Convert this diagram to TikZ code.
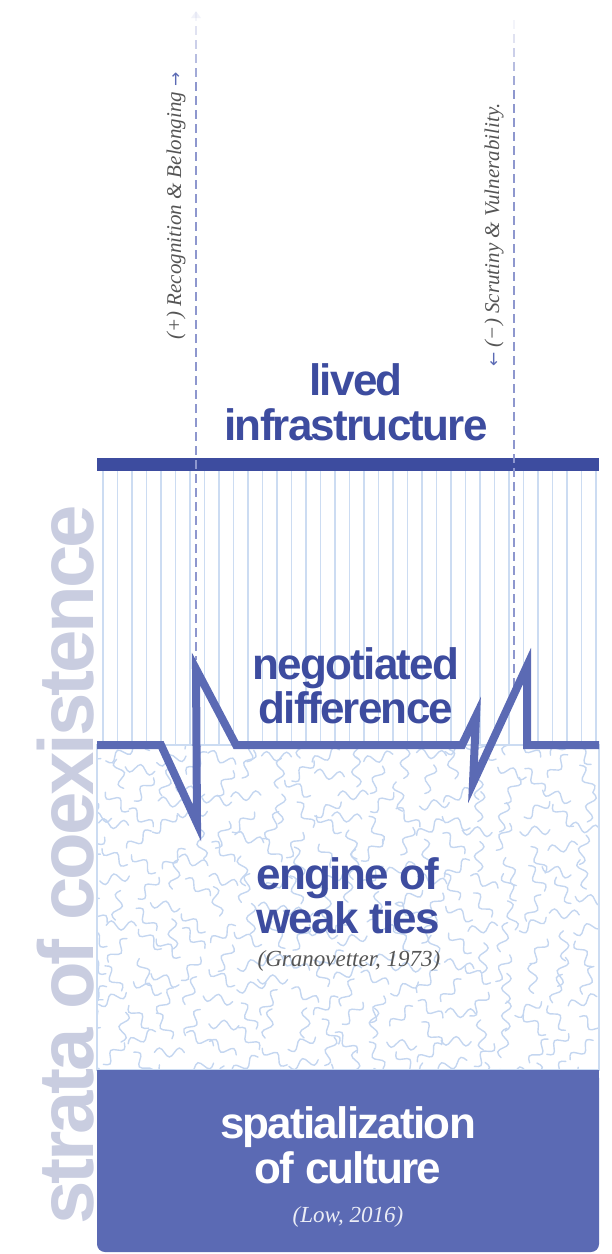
\documentclass[tikz,border=0pt]{standalone}
\usepackage{fontspec}
\setmainfont{Liberation Serif}
\newfontfamily\headfont{Liberation Sans}[LetterSpace=-4]
\newfontfamily\arrowfont{DejaVu Sans}
\usetikzlibrary{arrows.meta}

\definecolor{navy}{HTML}{3D4C9F}
\definecolor{stratablue}{HTML}{5B6AB4}
\definecolor{hatch}{HTML}{CCDCF2}
\definecolor{squig}{HTML}{C4D6F0}
\definecolor{ghost}{HTML}{C9CDE0}
\definecolor{dashblue}{HTML}{8E97CE}
\definecolor{notegray}{HTML}{555555}

\begin{document}
\begin{tikzpicture}[x=1pt,y=-1pt]

        % Styles:
        \tikzstyle{stratumtitle} = [font=\headfont\bfseries\fontsize{44}{46}\selectfont,
        text=navy, anchor=base, inner sep=0pt]
        \tikzstyle{citation} = [font=\itshape\fontsize{23}{26}\selectfont,
        text=notegray, anchor=base, inner sep=0pt]
        \tikzstyle{sidenote} = [font=\itshape\fontsize{21}{24}\selectfont,
        text=notegray, anchor=base, rotate=90, inner sep=0pt]
        \tikzstyle{guide} = [draw=dashblue, line width=1.3pt, dash pattern=on 9pt off 5pt]
        \tikzstyle{hatchline} = [draw=hatch, line width=1.2pt]
        \tikzstyle{squiggle} = [draw=squig, line width=1.4pt, line cap=round]
        \tikzstyle{fault} = [draw=stratablue, line width=8pt, line join=miter, miter limit=20]

        % Faded top of a guide: single dashes, lighter upwards
        \newcommand{\guidetop}[2]{%
            \foreach \k in {0,...,4}
                \path [draw=dashblue, line width=1.3pt, draw opacity=0.1+0.18*\k]
                (#1,#2+14*\k) -- (#1,#2+14*\k+9);}
        \newcommand{\notearrow}[1]{{\arrowfont\fontsize{17}{20}\selectfont\color{stratablue}#1}}

        \useasboundingbox (0,0) rectangle (611,1254);

        % Big side title:
        \node (strata) [font=\headfont\bfseries\fontsize{78}{80}\selectfont, text=ghost,
        rotate=90, anchor=base, inner sep=0pt] at (93,865) {strata of coexistence};

        % Hatched stratum:
        \foreach \x in {0,...,34}
            \path [hatchline] (103+14.5*\x,471) -- (103+14.5*\x,745);

        % Squiggle stratum:
        \pgfmathsetseed{42}
        \begin{scope}
            \clip (97,745) rectangle (599,1070);
            \foreach \i in {0,...,19}
                \foreach \j in {0,...,13} {
                    \pgfmathsetmacro{\sx}{92+26*\i+rand*6}
                    \pgfmathsetmacro{\sy}{742+25*\j+rand*6+mod(\i,2)*12}
                    \pgfmathsetmacro{\sa}{rnd*360}
                    \path [squiggle, shift={(\sx,\sy)}, rotate=\sa]
                    (-15,0) sin (-10,-4.5) cos (-5,0) sin (0,4.5) cos (5,0) sin (10,-4.5) cos (15,0);
                }
        \end{scope}
        \path [draw=hatch, line width=1.2pt] (97,745) rectangle (599,1070);

        % Bottom stratum:
        \fill [stratablue, rounded corners=8pt] (97,1070) rectangle (599,1252);
        \fill [stratablue] (97,1070) rectangle (599,1090);

        % Top bar:
        \fill [navy] (97,458) rectangle (599,471);

        % Guides:
        \fill [dashblue, opacity=0.12] (191,18) -- (196,11) -- (201,18) -- cycle;
        \guidetop{196}{12}
        \path [guide] (196,82) -- (196,660);
        \guidetop{514}{20}
        \path [guide] (514,90) -- (514,690);

        % Fault line:
        \path [fault] (97,745) -- (161,745) -- (197,823) -- (196,669) -- (236,745)
            -- (462,745) -- (476,716) -- (473,783) -- (527,666) -- (527,745) -- (599,745);

        % Labels:
        \node (lived) [stratumtitle] at (356,395) {lived};
        \node (infra) [stratumtitle] at (356,440) {infrastructure};
        \node (negotiated) [stratumtitle] at (356,679) {negotiated};
        \node (difference) [stratumtitle] at (356,723) {difference};
        \node (engine) [stratumtitle] at (348,889) {engine of};
        \node (weakties) [stratumtitle] at (348,933) {weak ties};
        \node (granovetter) [citation] at (349,966) {(Granovetter, 1973)};
        \node (spatial) [stratumtitle, text=white] at (348,1138) {spatialization};
        \node (culture) [stratumtitle, text=white] at (348,1183) {of culture};
        \node (low) [citation, text=white!88!stratablue] at (348,1222) {(Low, 2016)};

        \node (belonging) [sidenote] at (181,206) {(+) Recognition \& Belonging \notearrow{→}};
        \node (scrutiny) [sidenote] at (499,235) {\notearrow{←} (−) Scrutiny \& Vulnerability.};
\end{tikzpicture}
\end{document}
